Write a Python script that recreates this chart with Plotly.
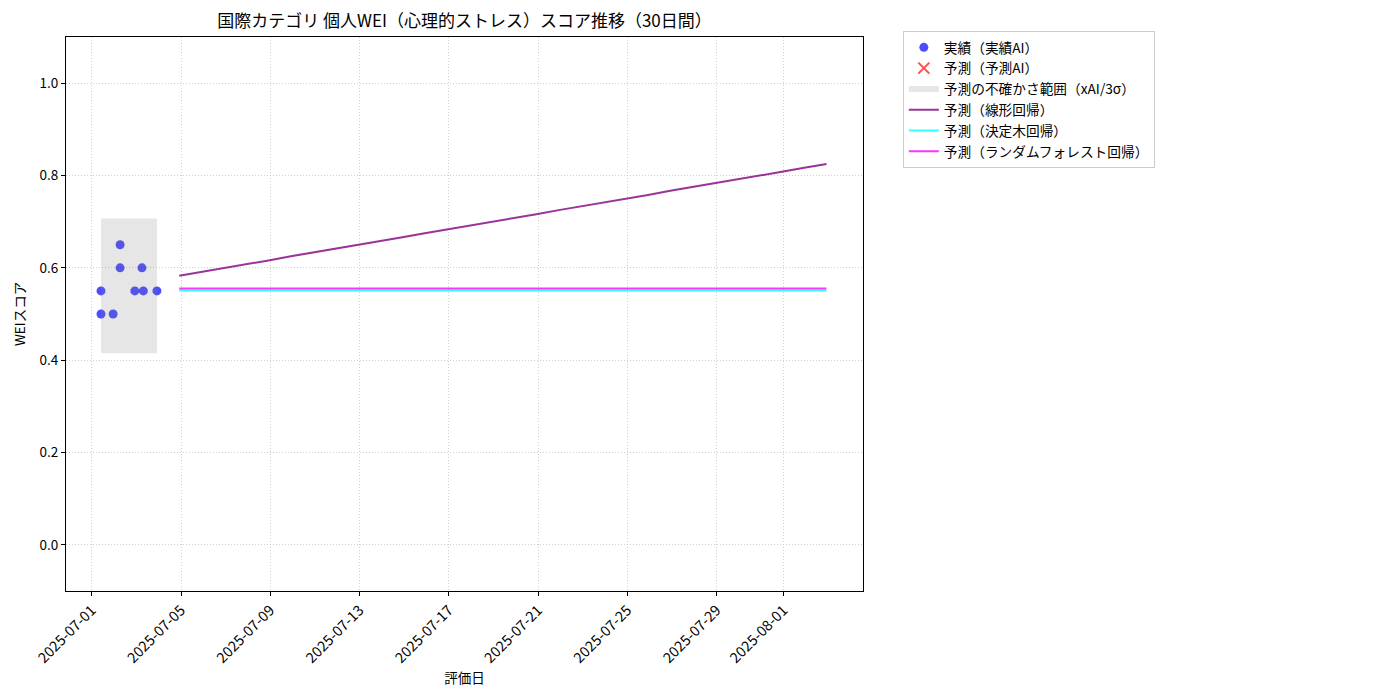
import plotly.graph_objects as go

# ---- data ----
actual_dates = [
    "2025-07-01 10:00", "2025-07-01 10:00", "2025-07-01 23:00",
    "2025-07-02 06:30", "2025-07-02 06:30", "2025-07-02 22:20",
    "2025-07-03 06:00", "2025-07-03 07:30", "2025-07-03 22:05",
]
actual_values = [0.55, 0.50, 0.50, 0.65, 0.60, 0.55, 0.60, 0.55, 0.55]

pred_ai_dates = []
pred_ai_values = []

band_low = 0.415
band_high = 0.707

forecast_dates = [
    "2025-07-04 22:05", "2025-07-05 22:05", "2025-07-06 22:05", "2025-07-07 22:05",
    "2025-07-08 22:05", "2025-07-09 22:05", "2025-07-10 22:05", "2025-07-11 22:05",
    "2025-07-12 22:05", "2025-07-13 22:05", "2025-07-14 22:05", "2025-07-15 22:05",
    "2025-07-16 22:05", "2025-07-17 22:05", "2025-07-18 22:05", "2025-07-19 22:05",
    "2025-07-20 22:05", "2025-07-21 22:05", "2025-07-22 22:05", "2025-07-23 22:05",
    "2025-07-24 22:05", "2025-07-25 22:05", "2025-07-26 22:05", "2025-07-27 22:05",
    "2025-07-28 22:05", "2025-07-29 22:05", "2025-07-30 22:05", "2025-07-31 22:05",
    "2025-08-01 22:05", "2025-08-02 22:05",
]
linear_values = [
    0.583, 0.591, 0.600, 0.608, 0.616, 0.625, 0.633, 0.641, 0.650, 0.658,
    0.666, 0.675, 0.683, 0.691, 0.700, 0.708, 0.716, 0.725, 0.733, 0.741,
    0.750, 0.758, 0.767, 0.775, 0.783, 0.792, 0.800, 0.808, 0.817, 0.825,
]
tree_values = [0.551] * 30
forest_values = [0.555] * 30

x_tick_vals = ["2025-07-01", "2025-07-05", "2025-07-09", "2025-07-13", "2025-07-17",
               "2025-07-21", "2025-07-25", "2025-07-29", "2025-08-01"]
x_tick_text = x_tick_vals
y_tick_vals = [0.0, 0.2, 0.4, 0.6, 0.8, 1.0]
y_tick_text = ["0.0", "0.2", "0.4", "0.6", "0.8", "1.0"]

title_text = "国際カテゴリ 個人WEI（心理的ストレス）スコア推移（30日間）"
FONT = "Noto Sans CJK JP"

W, H = 1384, 684
ML, MR, MT, MB = 58, 529, 29, 101

fig = go.Figure()

fig.add_trace(go.Scatter(
    x=actual_dates, y=actual_values, mode="markers", name="実績（実績AI）",
    marker=dict(color="rgba(0,0,255,0.7)", size=9, line=dict(width=0)),
))
fig.add_trace(go.Scatter(
    x=pred_ai_dates if pred_ai_dates else [None], y=pred_ai_values if pred_ai_values else [None],
    mode="markers", name="予測（予測AI）",
    marker=dict(color="rgba(255,0,0,0.7)", symbol="x-thin", size=11,
                line=dict(width=2, color="rgba(255,0,0,0.7)")),
))
fig.add_trace(go.Scatter(
    x=[actual_dates[0], actual_dates[-1], actual_dates[-1], actual_dates[0], actual_dates[0]],
    y=[band_low, band_low, band_high, band_high, band_low],
    fill="toself", mode="none", fillcolor="rgba(128,128,128,0.2)",
    name="予測の不確かさ範囲（xAI/3σ）",
))
fig.add_trace(go.Scatter(
    x=forecast_dates, y=linear_values, mode="lines", name="予測（線形回帰）",
    line=dict(color="rgba(128,0,128,0.8)", width=2),
))
fig.add_trace(go.Scatter(
    x=forecast_dates, y=tree_values, mode="lines", name="予測（決定木回帰）",
    line=dict(color="rgba(0,255,255,0.8)", width=2),
))
fig.add_trace(go.Scatter(
    x=forecast_dates, y=forest_values, mode="lines", name="予測（ランダムフォレスト回帰）",
    line=dict(color="rgba(255,0,255,0.8)", width=2),
))

axis_common = dict(
    showline=True, linecolor="black", linewidth=1, mirror=True,
    ticks="outside", ticklen=4, tickcolor="black", automargin=False,
    showgrid=True, gridcolor="rgba(176,176,176,0.6)", griddash="1px,2px", gridwidth=1,
    zeroline=False,
)

fig.update_layout(
    width=W, height=H,
    paper_bgcolor="white", plot_bgcolor="white",
    font=dict(family=FONT, size=13.5, color="black"),
    margin=dict(l=ML, r=MR, t=MT, b=MB, autoexpand=False),
    title=dict(text=title_text, x=(ML + (W - MR)) / 2 / W, xanchor="center",
               y=1 - 13 / H, yanchor="middle", font=dict(size=17, family=FONT)),
    xaxis=dict(
        **axis_common, type="date",
        range=["2025-06-29 20:20", "2025-08-04 13:20"],
        tickvals=x_tick_vals, ticktext=x_tick_text, tickangle=-45,
        tickfont=dict(size=14.5, color="black", family=FONT),
        title=dict(text="評価日", font=dict(size=13.5), standoff=4),
    ),
    yaxis=dict(
        **axis_common, range=[-0.1, 1.1],
        tickvals=y_tick_vals, ticktext=y_tick_text,
        tickfont=dict(size=13.5, color="black", family=FONT),
        title=dict(text="WEIスコア", font=dict(size=13.5), standoff=10),
    ),
    legend=dict(
        x=1.05, y=1.011, xanchor="left", yanchor="top",
        bordercolor="#cccccc", borderwidth=1, bgcolor="white",
        font=dict(size=13.7, family=FONT), tracegroupgap=0, itemwidth=30,
    ),
    showlegend=True,
)

fig.write_html("out.html")
